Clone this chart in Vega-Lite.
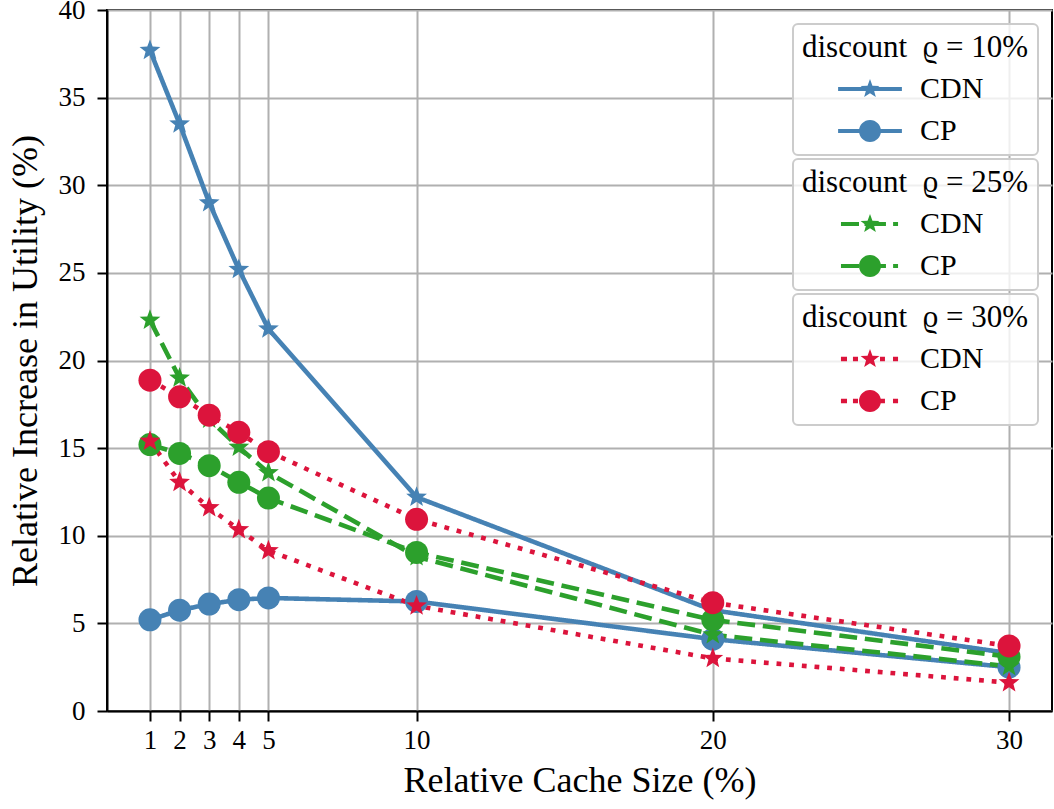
{
  "$schema": "https://vega.github.io/schema/vega-lite/v6.json",
  "width": 945,
  "height": 701,
  "autosize": "none",
  "padding": {"left": 107, "top": 10, "right": 2, "bottom": 98},
  "background": "white",
  "data": {
    "values": [
      {"discount": "10", "series": "CDN", "size": 1, "gain": 37.7},
      {"discount": "10", "series": "CDN", "size": 2, "gain": 33.5},
      {"discount": "10", "series": "CDN", "size": 3, "gain": 29.0},
      {"discount": "10", "series": "CDN", "size": 4, "gain": 25.2},
      {"discount": "10", "series": "CDN", "size": 5, "gain": 21.8},
      {"discount": "10", "series": "CDN", "size": 10, "gain": 12.2},
      {"discount": "10", "series": "CDN", "size": 20, "gain": 5.75},
      {"discount": "10", "series": "CDN", "size": 30, "gain": 3.3},
      {"discount": "10", "series": "CP", "size": 1, "gain": 5.2},
      {"discount": "10", "series": "CP", "size": 2, "gain": 5.75},
      {"discount": "10", "series": "CP", "size": 3, "gain": 6.1},
      {"discount": "10", "series": "CP", "size": 4, "gain": 6.35},
      {"discount": "10", "series": "CP", "size": 5, "gain": 6.45},
      {"discount": "10", "series": "CP", "size": 10, "gain": 6.25},
      {"discount": "10", "series": "CP", "size": 20, "gain": 4.1},
      {"discount": "10", "series": "CP", "size": 30, "gain": 2.5},
      {"discount": "25", "series": "CDN", "size": 1, "gain": 22.3},
      {"discount": "25", "series": "CDN", "size": 2, "gain": 19.0},
      {"discount": "25", "series": "CDN", "size": 3, "gain": 16.65},
      {"discount": "25", "series": "CDN", "size": 4, "gain": 15.05},
      {"discount": "25", "series": "CDN", "size": 5, "gain": 13.6},
      {"discount": "25", "series": "CDN", "size": 10, "gain": 8.8},
      {"discount": "25", "series": "CDN", "size": 20, "gain": 4.35},
      {"discount": "25", "series": "CDN", "size": 30, "gain": 2.55},
      {"discount": "25", "series": "CP", "size": 1, "gain": 15.2},
      {"discount": "25", "series": "CP", "size": 2, "gain": 14.7},
      {"discount": "25", "series": "CP", "size": 3, "gain": 14.0},
      {"discount": "25", "series": "CP", "size": 4, "gain": 13.05},
      {"discount": "25", "series": "CP", "size": 5, "gain": 12.15},
      {"discount": "25", "series": "CP", "size": 10, "gain": 9.05},
      {"discount": "25", "series": "CP", "size": 20, "gain": 5.2},
      {"discount": "25", "series": "CP", "size": 30, "gain": 3.1},
      {"discount": "30", "series": "CDN", "size": 1, "gain": 15.4},
      {"discount": "30", "series": "CDN", "size": 2, "gain": 13.05},
      {"discount": "30", "series": "CDN", "size": 3, "gain": 11.6},
      {"discount": "30", "series": "CDN", "size": 4, "gain": 10.35},
      {"discount": "30", "series": "CDN", "size": 5, "gain": 9.15},
      {"discount": "30", "series": "CDN", "size": 10, "gain": 6.0},
      {"discount": "30", "series": "CDN", "size": 20, "gain": 3.0},
      {"discount": "30", "series": "CDN", "size": 30, "gain": 1.62},
      {"discount": "30", "series": "CP", "size": 1, "gain": 18.88},
      {"discount": "30", "series": "CP", "size": 2, "gain": 17.93},
      {"discount": "30", "series": "CP", "size": 3, "gain": 16.88},
      {"discount": "30", "series": "CP", "size": 4, "gain": 15.9},
      {"discount": "30", "series": "CP", "size": 5, "gain": 14.8},
      {"discount": "30", "series": "CP", "size": 10, "gain": 10.94},
      {"discount": "30", "series": "CP", "size": 20, "gain": 6.18},
      {"discount": "30", "series": "CP", "size": 30, "gain": 3.71}
    ]
  },
  "layer": [
    {
      "mark": {"type": "line", "strokeWidth": 4.6, "strokeCap": "butt", "strokeJoin": "round"},
      "encoding": {
        "x": {
          "field": "size", "type": "quantitative",
          "scale": {"domain": [-0.45, 31.45], "nice": false, "zero": false},
          "axis": {"values": [1, 2, 3, 4, 5, 10, 20, 30], "title": "Relative Cache Size (%)"}
        },
        "y": {
          "field": "gain", "type": "quantitative",
          "scale": {"domain": [0, 40], "nice": false, "zero": false},
          "axis": {"values": [0, 5, 10, 15, 20, 25, 30, 35, 40], "title": "Relative Increase in Utility (%)"}
        },
        "color": {
          "field": "discount", "type": "nominal",
          "scale": {"domain": ["10", "25", "30"], "range": ["#4682b4", "#2ca02c", "#dc143c"]},
          "legend": null
        },
        "strokeDash": {
          "field": "discount", "type": "nominal",
          "scale": {"domain": ["10", "25", "30"], "range": [[1, 0], [17.9, 7.8], [4.8, 7.9]]},
          "legend": null
        },
        "detail": {"field": "series", "type": "nominal"}
      }
    },
    {
      "mark": {"type": "point", "filled": true, "opacity": 1, "size": 529, "strokeWidth": 0},
      "encoding": {
        "x": {"field": "size", "type": "quantitative"},
        "y": {"field": "gain", "type": "quantitative"},
        "color": {
          "field": "discount", "type": "nominal",
          "scale": {"domain": ["10", "25", "30"], "range": ["#4682b4", "#2ca02c", "#dc143c"]},
          "legend": null
        },
        "shape": {
          "field": "series", "type": "nominal",
          "scale": {"domain": ["CDN", "CP"], "range": ["M0,-0.95L0.2346,-0.3228L0.9035,-0.2936L0.3795,0.1233L0.5584,0.7686L0,0.399L-0.5584,0.7686L-0.3795,0.1233L-0.9035,-0.2936L-0.2346,-0.3228Z", "circle"]},
          "legend": null
        }
      }
    },
    {
      "transform": [{"filter": {"field": "discount", "equal": "10"}}],
      "mark": {"type": "point", "filled": true, "opacity": 0, "color": "#4682b4"},
      "encoding": {
        "x": {"field": "size", "type": "quantitative"},
        "y": {"field": "gain", "type": "quantitative"},
        "shape": {
          "field": "series", "type": "nominal",
          "scale": {"domain": ["CDN", "CP"], "range": [
            "M-2.9,-0.18L2.9,-0.18L2.9,0.18L-2.9,0.18ZM0,-0.9L0.2222,-0.3058L0.856,-0.278L0.3595,0.1168L0.529,0.728L0,0.378L-0.529,0.728L-0.3595,0.1168L-0.856,-0.278L-0.2222,-0.3058Z",
            "M-2.9,-0.18L2.9,-0.18L2.9,0.18L-2.9,0.18ZM1,0A1,1 0 1,1 -1,0A1,1 0 1,1 1,0Z"
          ]},
          "legend": {"title": "discount\u00a0\u00a0ϱ = 10%", "symbolOpacity": 1, "symbolFillColor": "#4682b4", "symbolStrokeWidth": 0}
        }
      }
    },
    {
      "transform": [{"filter": {"field": "discount", "equal": "25"}}],
      "mark": {"type": "point", "filled": true, "opacity": 0, "color": "#2ca02c"},
      "encoding": {
        "x": {"field": "size", "type": "quantitative"},
        "y": {"field": "gain", "type": "quantitative"},
        "shape": {
          "field": "series", "type": "nominal",
          "scale": {"domain": ["CDN", "CP"], "range": [
            "M-2.64,-0.18L-1,-0.18L-1,0.18L-2.64,0.18ZM-0.5,-0.18L1.45,-0.18L1.45,0.18L-0.5,0.18ZM2.1,-0.18L2.55,-0.18L2.55,0.18L2.1,0.18ZM0,-0.9L0.2222,-0.3058L0.856,-0.278L0.3595,0.1168L0.529,0.728L0,0.378L-0.529,0.728L-0.3595,0.1168L-0.856,-0.278L-0.2222,-0.3058Z",
            "M-2.64,-0.18L-1,-0.18L-1,0.18L-2.64,0.18ZM-0.5,-0.18L1.45,-0.18L1.45,0.18L-0.5,0.18ZM2.1,-0.18L2.55,-0.18L2.55,0.18L2.1,0.18ZM1,0A1,1 0 1,1 -1,0A1,1 0 1,1 1,0Z"
          ]},
          "legend": {"title": "discount\u00a0\u00a0ϱ = 25%", "symbolOpacity": 1, "symbolFillColor": "#2ca02c", "symbolStrokeWidth": 0}
        }
      }
    },
    {
      "transform": [{"filter": {"field": "discount", "equal": "30"}}],
      "mark": {"type": "point", "filled": true, "opacity": 0, "color": "#dc143c"},
      "encoding": {
        "x": {"field": "size", "type": "quantitative"},
        "y": {"field": "gain", "type": "quantitative"},
        "shape": {
          "field": "series", "type": "nominal",
          "scale": {"domain": ["CDN", "CP"], "range": [
            "M-2.64,-0.2L-2.09,-0.2L-2.09,0.2L-2.64,0.2ZM-1.55,-0.2L-1.09,-0.2L-1.09,0.2L-1.55,0.2ZM0.91,-0.2L1.36,-0.2L1.36,0.2L0.91,0.2ZM2.09,-0.2L2.55,-0.2L2.55,0.2L2.09,0.2ZM0,-0.9L0.2222,-0.3058L0.856,-0.278L0.3595,0.1168L0.529,0.728L0,0.378L-0.529,0.728L-0.3595,0.1168L-0.856,-0.278L-0.2222,-0.3058Z",
            "M-2.64,-0.2L-2.09,-0.2L-2.09,0.2L-2.64,0.2ZM-1.55,-0.2L-1.09,-0.2L-1.09,0.2L-1.55,0.2ZM0.91,-0.2L1.36,-0.2L1.36,0.2L0.91,0.2ZM2.09,-0.2L2.55,-0.2L2.55,0.2L2.09,0.2ZM1,0A1,1 0 1,1 -1,0A1,1 0 1,1 1,0Z"
          ]},
          "legend": {"title": "discount\u00a0\u00a0ϱ = 30%", "symbolOpacity": 1, "symbolFillColor": "#dc143c", "symbolStrokeWidth": 0}
        }
      }
    }
  ],
  "resolve": {"scale": {"shape": "independent"}},
  "config": {
    "font": "Liberation Serif",
    "view": {"stroke": "black", "strokeWidth": 2},
    "axis": {
      "domainColor": "black", "domainWidth": 2,
      "tickColor": "black", "tickWidth": 2, "tickSize": 10,
      "grid": true, "gridColor": "#b0b0b0", "gridWidth": 2,
      "labelFont": "Liberation Serif", "labelFontSize": 27, "labelColor": "black",
      "labelFlush": false, "labelOverlap": false, "labelPadding": 6,
      "titleFont": "Liberation Serif", "titleFontSize": 36, "titleFontWeight": "normal", "titleColor": "black"
    },
    "axisX": {"titlePadding": 10},
    "axisY": {"labelPadding": 12, "titlePadding": 14},
    "legend": {
      "orient": "top-right", "offset": 14, "padding": 9,
      "fillColor": "rgba(255,255,255,0.8)", "strokeColor": "#cccccc", "strokeWidth": 2, "cornerRadius": 5,
      "titleFont": "Liberation Serif", "titleFontSize": 31, "titleFontWeight": "normal", "titleColor": "black", "titleLimit": 400, "titlePadding": 10,
      "labelFont": "Liberation Serif", "labelFontSize": 30, "labelColor": "black", "labelLimit": 200,
      "symbolSize": 484, "symbolOffset": 53, "labelOffset": 35, "rowPadding": 12,
      "layout": {"top-right": {"direction": "vertical", "margin": 4}}
    }
  }
}
